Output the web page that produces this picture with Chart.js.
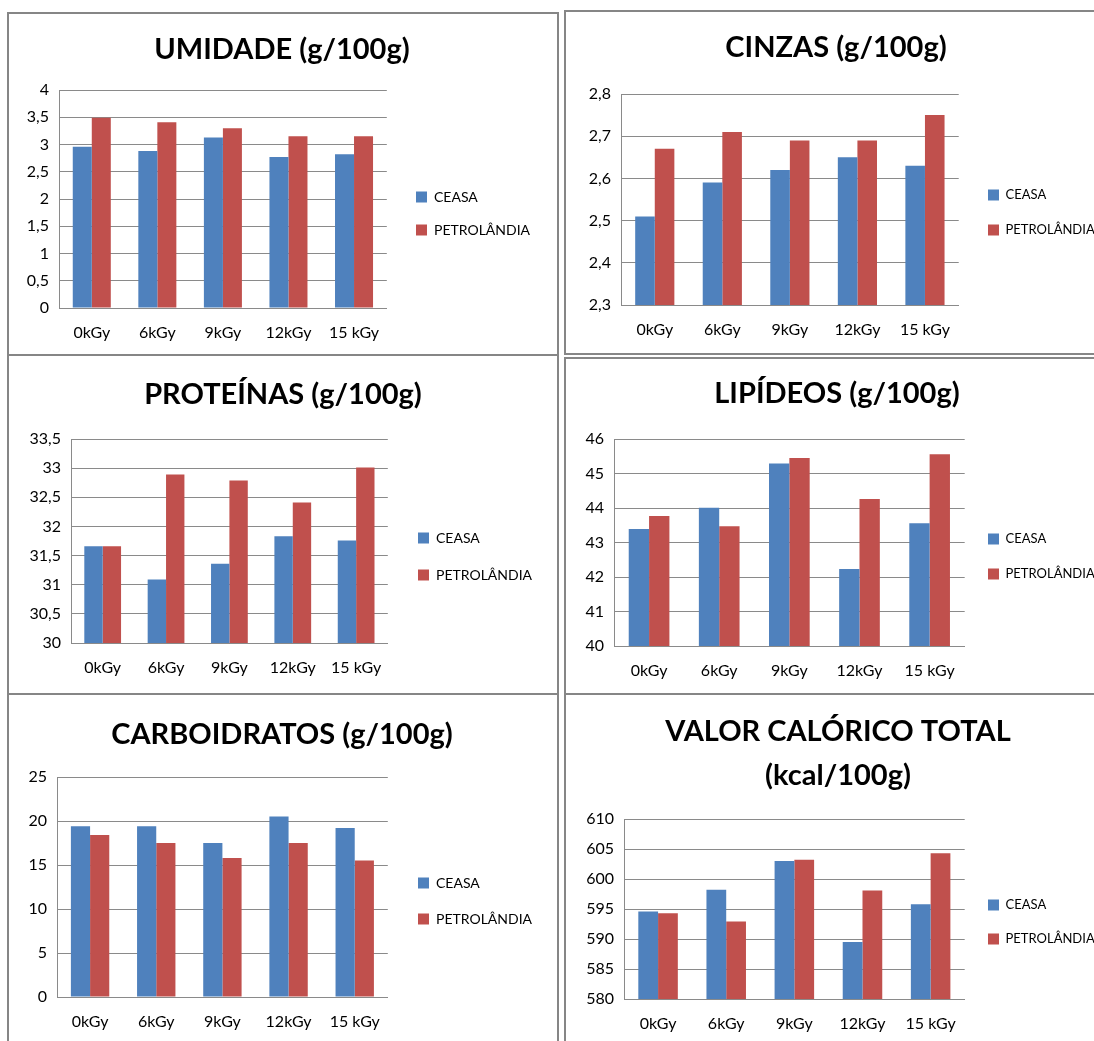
<!DOCTYPE html>
<html>
<head>
<meta charset="utf-8">
<script src="https://cdn.jsdelivr.net/npm/chart.js@4.4.0/dist/chart.umd.min.js"></script>
<style>
  body { margin: 0; background: #fff; width: 1094px; height: 1041px; overflow: hidden; position: relative; }
  .panel { position: absolute; border: 2px solid #868686; box-sizing: border-box; background: #fff; overflow: hidden; }
  .panel canvas { position: absolute; left: 0; top: 0; }
</style>
</head>
<body>
<div class="panel" style="left:7px;top:12px;width:552px;height:344px"><canvas id="c1"></canvas></div>
<div class="panel" style="left:564px;top:10px;width:540px;height:345px"><canvas id="c2"></canvas></div>
<div class="panel" style="left:7px;top:354px;width:552px;height:341px"><canvas id="c3"></canvas></div>
<div class="panel" style="left:564px;top:357px;width:540px;height:338px"><canvas id="c4"></canvas></div>
<div class="panel" style="left:7px;top:693px;width:552px;height:360px"><canvas id="c5"></canvas></div>
<div class="panel" style="left:564px;top:693px;width:540px;height:360px"><canvas id="c6"></canvas></div>

<script>
// dados
const doses = ['0kGy', '6kGy', '9kGy', '12kGy', '15 kGy'];
const seriesNames = ['CEASA', 'PETROLÂNDIA'];

const umidadeCeasa = [2.96, 2.88, 3.13, 2.77, 2.82];
const umidadePetrolandia = [3.49, 3.41, 3.30, 3.15, 3.15];
const umidadeTicks = [0, 0.5, 1, 1.5, 2, 2.5, 3, 3.5, 4];

const cinzasCeasa = [2.51, 2.59, 2.62, 2.65, 2.63];
const cinzasPetrolandia = [2.67, 2.71, 2.69, 2.69, 2.75];
const cinzasTicks = [2.3, 2.4, 2.5, 2.6, 2.7, 2.8];

const proteinasCeasa = [31.66, 31.09, 31.36, 31.83, 31.76];
const proteinasPetrolandia = [31.66, 32.89, 32.79, 32.41, 33.01];
const proteinasTicks = [30, 30.5, 31, 31.5, 32, 32.5, 33, 33.5];

const lipideosCeasa = [43.39, 44.01, 45.29, 42.23, 43.56];
const lipideosPetrolandia = [43.77, 43.47, 45.45, 44.26, 45.56];
const lipideosTicks = [40, 41, 42, 43, 44, 45, 46];

const carboidratosCeasa = [19.4, 19.4, 17.5, 20.5, 19.2];
const carboidratosPetrolandia = [18.4, 17.5, 15.8, 17.5, 15.5];
const carboidratosTicks = [0, 5, 10, 15, 20, 25];

const caloricoCeasa = [594.6, 598.2, 603.0, 589.5, 595.8];
const caloricoPetrolandia = [594.3, 592.9, 603.2, 598.1, 604.3];
const caloricoTicks = [580, 585, 590, 595, 600, 605, 610];

const BLUE = '#4F81BD';
const RED = '#C0504D';
const GRID = '#8a8a8a';
const FONT = 'Lato, "Liberation Sans", sans-serif';

// posições na página (px) de cada painel
const panels = [
  { id: 'c1', org: [9, 14], size: [548, 340], title: ['UMIDADE (g/100g)'], tx: 282, tc: 50, lh: 1.2,
    area: { l: 59, t: 90, r: 387, b: 308 }, leg: { x: 416, y: 197, gap: 33, fs: 14 },
    a: umidadeCeasa, b: umidadePetrolandia, ticks: umidadeTicks },
  { id: 'c2', org: [566, 12], size: [536, 341], title: ['CINZAS (g/100g)'], tx: 836, tc: 48, lh: 1.2,
    area: { l: 621, t: 94, r: 959, b: 305 }, leg: { x: 988, y: 195, gap: 35, fs: 13 },
    a: cinzasCeasa, b: cinzasPetrolandia, ticks: cinzasTicks },
  { id: 'c3', org: [9, 356], size: [548, 337], title: ['PROTEÍNAS (g/100g)'], tx: 283, tc: 395, lh: 1.2,
    area: { l: 71, t: 439, r: 388, b: 643 }, leg: { x: 418, y: 538, gap: 37, fs: 14 },
    a: proteinasCeasa, b: proteinasPetrolandia, ticks: proteinasTicks },
  { id: 'c4', org: [566, 359], size: [536, 334], title: ['LIPÍDEOS (g/100g)'], tx: 837, tc: 394, lh: 1.2,
    area: { l: 614, t: 439, r: 965, b: 646 }, leg: { x: 988, y: 539, gap: 35, fs: 13 },
    a: lipideosCeasa, b: lipideosPetrolandia, ticks: lipideosTicks },
  { id: 'c5', org: [9, 695], size: [548, 356], title: ['CARBOIDRATOS (g/100g)'], tx: 282, tc: 735, lh: 1.2,
    area: { l: 57, t: 777, r: 388, b: 997 }, leg: { x: 418, y: 883, gap: 36, fs: 14 },
    a: carboidratosCeasa, b: carboidratosPetrolandia, ticks: carboidratosTicks },
  { id: 'c6', org: [566, 695], size: [536, 356], title: ['VALOR CALÓRICO TOTAL', '(kcal/100g)'], tx: 838, tc: 732, lh: 1.5,
    area: { l: 624, t: 819, r: 965, b: 999 }, leg: { x: 988, y: 905, gap: 34, fs: 13 },
    a: caloricoCeasa, b: caloricoPetrolandia, ticks: caloricoTicks }
];

function makeChart(p) {
  const canvas = document.getElementById(p.id);
  canvas.width = p.size[0];
  canvas.height = p.size[1];
  canvas.style.width = p.size[0] + 'px';
  canvas.style.height = p.size[1] + 'px';
  const ox = p.org[0], oy = p.org[1];
  const want = { l: p.area.l - ox, t: p.area.t - oy, r: p.area.r - ox, b: p.area.b - oy };
  const titleSize = 29;
  const legSize = p.leg.fs;
  const legPad = p.leg.gap - legSize;

  // legenda e título nas posições medidas
  const placeBoxes = {
    id: 'placeBoxes',
    afterLayout(chart) {
      const lg = chart.legend;
      lg.left = p.leg.x - ox - legPad;
      lg.right = chart.width;
      lg.width = lg.right - lg.left;
      lg.top = p.leg.y - oy - legSize / 2 - legPad;
      lg.bottom = chart.height;
      lg.height = lg.bottom - lg.top;
      const tb = chart.titleBlock;
      tb.left = p.tx - ox - 250;
      tb.right = p.tx - ox + 250;
      tb.width = 500;
    }
  };

  const chart = new Chart(canvas.getContext('2d'), {
    type: 'bar',
    data: {
      labels: doses,
      datasets: [
        { label: seriesNames[0], data: p.a, backgroundColor: BLUE },
        { label: seriesNames[1], data: p.b, backgroundColor: RED }
      ]
    },
    options: {
      responsive: false,
      animation: false,
      devicePixelRatio: 1,
      categoryPercentage: 0.58,
      barPercentage: 1,
      layout: { padding: { left: 0, right: 120, top: 0, bottom: 10 } },
      plugins: {
        tooltip: { enabled: false },
        title: {
          display: true,
          text: p.title,
          color: '#000',
          font: { family: FONT, size: titleSize, weight: 'bold', lineHeight: p.lh },
          padding: { top: p.tc - oy - titleSize * p.lh / 2, bottom: 20 }
        },
        legend: {
          position: 'right',
          align: 'start',
          labels: {
            boxWidth: 11,
            boxHeight: 11,
            padding: legPad,
            color: '#000',
            font: { family: FONT, size: legSize }
          }
        }
      },
      scales: {
        x: {
          grid: { display: false },
          border: { display: true, color: GRID },
          ticks: { color: '#000', padding: 7, font: { family: FONT, size: 16 } }
        },
        y: {
          min: p.ticks[0],
          max: p.ticks[p.ticks.length - 1],
          afterBuildTicks: s => { s.ticks = p.ticks.map(v => ({ value: v })); },
          grid: { color: GRID, drawTicks: false },
          border: { display: true, color: GRID },
          ticks: {
            color: '#000',
            padding: 10,
            font: { family: FONT, size: 16 },
            callback: v => String(v).replace('.', ',')
          }
        }
      }
    },
    plugins: [placeBoxes]
  });

  // ajusta a área do gráfico para a posição medida
  for (let i = 0; i < 4; i++) {
    const a = chart.chartArea;
    const o = chart.config.options;
    o.layout.padding.left += want.l - a.left;
    o.layout.padding.right += a.right - want.r;
    o.layout.padding.bottom += a.bottom - want.b;
    o.plugins.title.padding.bottom += want.t - a.top;
    chart.update();
  }
  return chart;
}

panels.forEach(makeChart);
</script>
</body>
</html>
